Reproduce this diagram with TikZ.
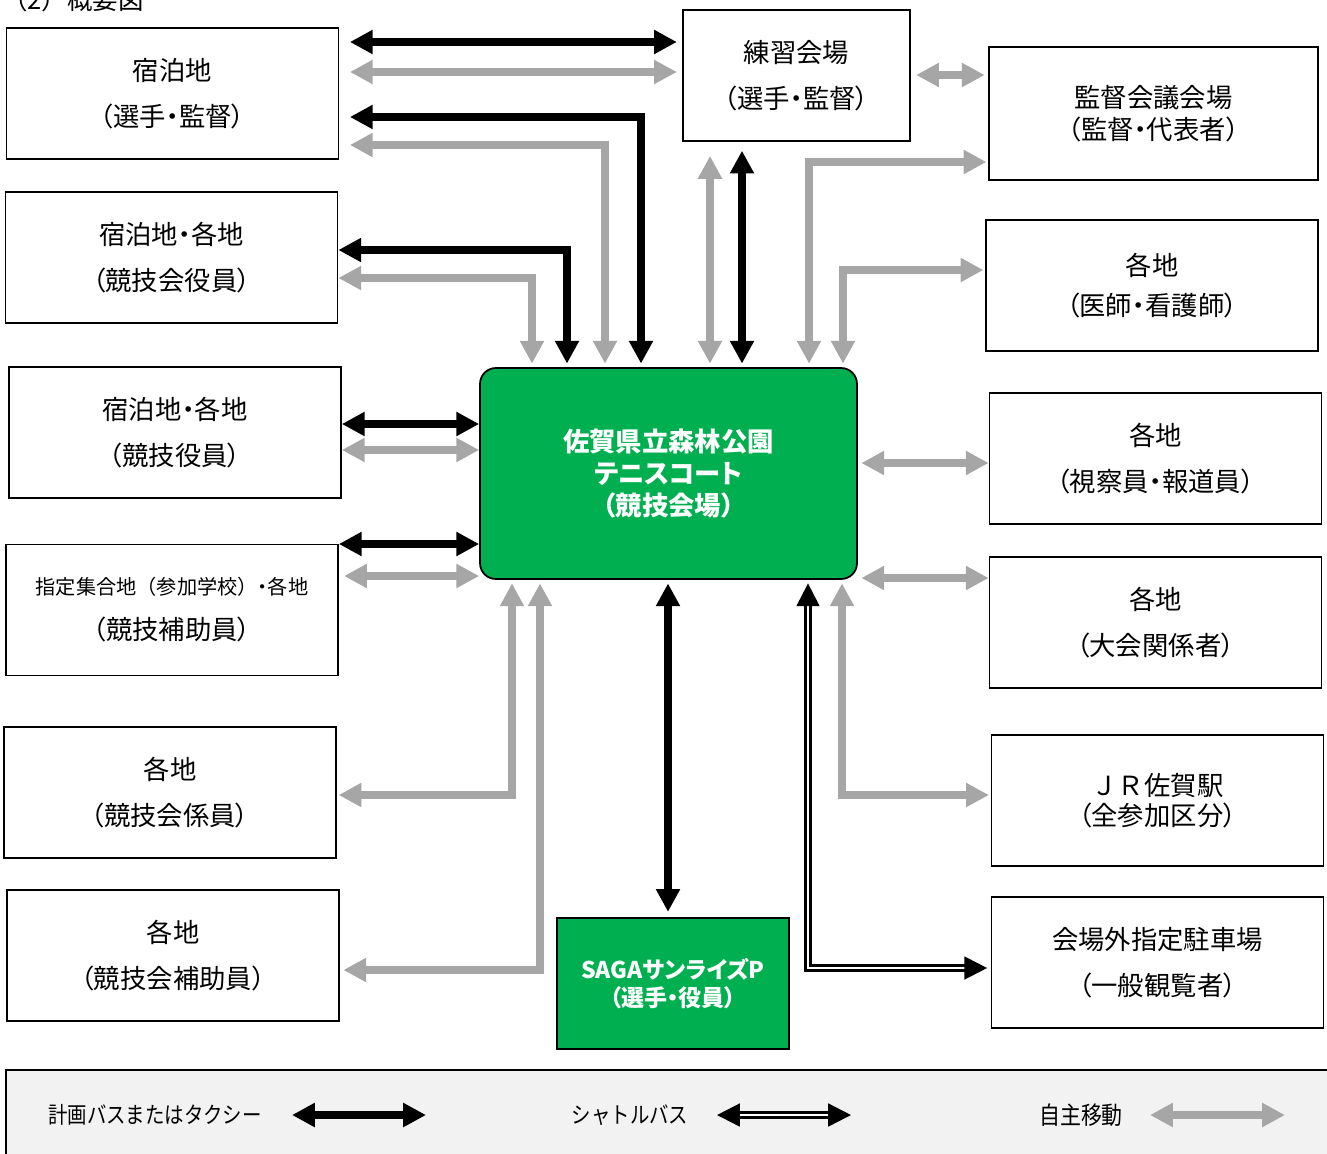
\documentclass[tikz,border=0pt]{standalone}
\usepackage{fontspec}
\setmainfont[RawFeature=+palt]{Noto Sans CJK JP}
\newfontfamily\jpfull{Noto Sans CJK JP}
\usetikzlibrary{arrows.meta}
\definecolor{walkgray}{HTML}{A6A6A6}
\definecolor{venuegreen}{HTML}{00B050}
\definecolor{legendgray}{HTML}{F2F2F2}

\tikzset{
  place/.style={draw, line width=1pt, minimum width=6.64cm, minimum height=2.62cm,
    inner sep=0pt, align=center, font=\fontsize{15pt}{26.5pt}\selectfont},
  hub/.style={place, fill=venuegreen, text=white},
  bus/.style={<->, line width=4.3pt},
  walk/.style={bus, draw=walkgray},
  shuttle/.style={<->, line width=1.3pt, double=white, double distance=1.6pt},
  legendtext/.style={font=\jpfull\fontsize{13pt}{13pt}\selectfont, xscale=.85, transform shape},
  >={Triangle[length=13pt,width=13pt]}
}

\begin{document}
\begin{tikzpicture}[x=0.02cm, y=-0.02cm]
      \useasboundingbox (0,0) rectangle (1327,1153);

      \node[anchor=base west, font=\jpfull\fontsize{14.5pt}{14.5pt}\selectfont] (title) at (-4,9) {（2）概要図};

      % left column
      \path
      (172.5,93.5) node[place](stay) {宿泊地\\（選手・監督）}
      (171.5,257.5) node[place](stayo) {宿泊地・各地\\（競技会役員）}
      (175,432.5) node[place](stayj) {宿泊地・各地\\（競技役員）}
      (172,610) node[place](gather) {{\fontsize{11.5pt}{26.5pt}\selectfont{\jpfull 指定集合地（参加学校）}・各地}\\[-1pt]（競技補助員）}
      (170,792.5) node[place](clerk) {各地\\（競技会係員）}
      (173,955.5) node[place](helper) {各地\\（競技会補助員）}
      ;

      % top and right column
      \path
      (796.5,75.5) node[place, minimum width=4.54cm](prac) {練習会場\\（選手・監督）}
      (1153.5,113.5) node[place, minimum width=6.58cm, minimum height=2.66cm](meet) {監督会議会場\\[-8.4pt]（監督・代表者）}
      (1152,285.5) node[place](med) {各地\\[-3.3pt]（医師・看護師）}
      (1155.5,458.5) node[place](press) {各地\\（視察員・報道員）}
      (1155.5,622.5) node[place](staff) {各地\\（大会関係者）}
      (1157.5,800.5) node[place](jr) {{\jpfull ＪＲ佐賀駅}\\[-9.5pt]（全参加区分）}
      (1157.5,962.5) node[place](park) {会場外指定駐車場\\（一般観覧者）}
      ;

      % venue and parking
      \path
      (668.5,473.5) node[hub, minimum width=7.54cm, minimum height=4.22cm, rounded corners=9pt,
        font=\bfseries\fontsize{15pt}{18.4pt}\selectfont](venue) {佐賀県立森林公園\\テニスコート\\（競技会場）}
      (673,983.5) node[hub, minimum width=4.64cm, font=\bfseries\fontsize{13.1pt}{16pt}\selectfont](saga) {SAGAサンライズP\\（選手・役員）}
      ;

      % self travel
      \draw[walk, shorten <=6pt, shorten >=3pt] (stay.east |- 0,72) -- (prac.west |- 0,72);
      \draw[walk, shorten <=6pt, shorten >=2pt] (stay.east |- 0,145) -| (venue.north -| 605,0);
      \draw[walk, shorten >=2pt] (stayo.east |- 0,278) -| (venue.north -| 532,0);
      \draw[walk] (stayj.east |- 0,450) -- (venue.west |- 0,450);
      \draw[walk, shorten <=3pt] (gather.east |- 0,576) -- (venue.west |- 0,576);
      \draw[walk, shorten <=1pt, shorten >=2pt] (clerk.east |- 0,795) -| (venue.south -| 512,0);
      \draw[walk, shorten <=2pt, shorten >=2pt] (helper.east |- 0,970) -| (venue.south -| 540,0);
      \draw[walk, shorten <=8pt, shorten >=2pt] (prac.south -| 710,0) -- (venue.north -| 710,0);
      \draw[walk, shorten <=3pt, shorten >=2pt] (prac.east |- 0,75) -- (meet.west |- 0,75);
      \draw[walk, shorten <=2pt, shorten >=1pt] (venue.north -| 809,0) |- (meet.west |- 0,162);
      \draw[walk, shorten <=2pt, shorten >=1pt] (venue.north -| 843,0) |- (med.west |- 0,270);
      \draw[walk, shorten <=2pt] (venue.east |- 0,463) -- (press.west |- 0,463);
      \draw[walk, shorten <=2pt] (venue.east |- 0,578) -- (staff.west |- 0,578);
      \draw[walk, shorten <=2pt, shorten >=1pt] (venue.south -| 842,0) |- (jr.west |- 0,795);

      % planned bus or taxi
      \draw[bus, shorten <=6pt, shorten >=3pt] (stay.east |- 0,42) -- (prac.west |- 0,42);
      \draw[bus, shorten <=6pt, shorten >=2pt] (stay.east |- 0,117) -| (venue.north -| 641,0);
      \draw[bus, shorten >=2pt] (stayo.east |- 0,250) -| (venue.north -| 567,0);
      \draw[bus] (stayj.east |- 0,424) -- (venue.west |- 0,424);
      \draw[bus] (gather.east |- 0,544) -- (venue.west |- 0,544);
      \draw[bus, shorten <=5pt, shorten >=2pt] (prac.south -| 742,0) -- (venue.north -| 742,0);
      \draw[bus, shorten <=2pt, shorten >=3pt] (venue.south -| 668,0) -- (saga.north -| 668,0);

      % shuttle
      \draw[shuttle, shorten <=2pt, shorten >=2pt] (venue.south -| 808,0) |- (park.west |- 0,968);

      % legend
      \node[draw, line width=1pt, fill=legendgray, anchor=north west, minimum width=26.8cm,
        minimum height=2.2cm] (legend) at (5,1069) {};
      \path
      (155,1115) node[legendtext](buslabel) {計画バスまたはタクシー}
      (630,1115) node[legendtext](shuttlelabel) {シャトルバス}
      (1081,1115) node[legendtext, font=\jpfull\fontsize{14pt}{14pt}\selectfont](walklabel) {自主移動}
      ;
      \coordinate (busA) at (292,1115);
      \coordinate (busB) at (426,1115);
      \coordinate (shuttleA) at (717,1115);
      \coordinate (shuttleB) at (851,1115);
      \coordinate (walkA) at (1150,1115);
      \coordinate (walkB) at (1285,1115);
      \draw[bus] (busA) -- (busB);
      \draw[shuttle] (shuttleA) -- (shuttleB);
      \draw[walk] (walkA) -- (walkB);
    \end{tikzpicture}
\end{document}
